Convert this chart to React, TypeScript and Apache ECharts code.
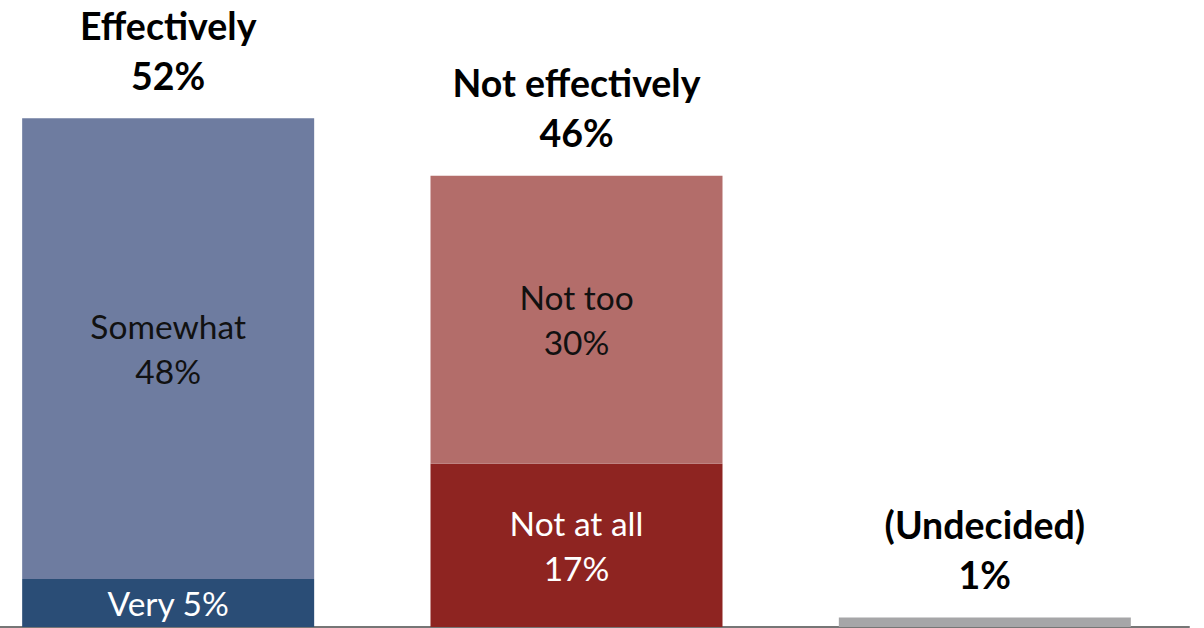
import React, { useEffect, useRef } from "react";
import * as echarts from "echarts";

const categories = ["Effectively", "Not effectively", "(Undecided)"];
const veryValues = [5, null, null];
const somewhatValues = [48, null, null];
const notAtAllValues = [null, 17, null];
const notTooValues = [null, 30, null];
const undecidedValues = [null, null, 1];
const totalLabels = ["52%", "46%", "1%"];

const FONT = "Lato";

export default function App() {
  const ref = useRef<HTMLDivElement>(null);
  useEffect(() => {
    document.body.style.margin = "0";
    if (!ref.current) return;
    const chart = echarts.init(ref.current, null, { renderer: "svg" });
    const toData = (arr: (number | null)[]) => arr.map((v) => (v == null ? "-" : v));
    const inner = (name: string, color: string, oneLine = false) => ({
      show: true,
      position: "inside",
      color,
      fontFamily: FONT,
      fontSize: 33.5,
      lineHeight: 45,
      formatter: (p: any) => (oneLine ? `${name} ${p.value}%` : `${name}\n${p.value}%`),
    });
    const mk = (name: string, data: any[], color: string, label: any) => ({
      name,
      type: "bar",
      stack: "s",
      barWidth: 292,
      data: toData(data),
      itemStyle: { color },
      label,
    });
    chart.setOption({
      animation: false,
      grid: { left: 0, right: 15, top: 51, bottom: 1 },
      xAxis: {
        type: "category",
        data: categories,
        axisLine: { show: true, lineStyle: { color: "#767676", width: 2 } },
        axisTick: { show: false },
        axisLabel: { show: false },
      },
      yAxis: { type: "value", min: 0, max: 60, show: false, splitLine: { show: false } },
      series: [
        mk("Very", veryValues, "#2A4D76", inner("Very", "#ffffff", true)),
        mk("Somewhat", somewhatValues, "#6E7CA0", inner("Somewhat", "#111111")),
        mk("Not at all", notAtAllValues, "#8E2421", inner("Not at all", "#ffffff")),
        mk("Not too", notTooValues, "#B36D6A", inner("Not too", "#111111")),
        mk("(Undecided)", undecidedValues, "#A6A6A8", { show: false }),
        {
          name: "total",
          type: "bar",
          stack: "s",
          barWidth: 292,
          data: [0, 0, 0],
          itemStyle: { color: "transparent" },
          label: {
            show: true,
            position: "top",
            distance: 18,
            color: "#000000",
            fontFamily: FONT,
            fontWeight: "bold",
            fontSize: 37.5,
            lineHeight: 50,
            formatter: (p: any) => `${categories[p.dataIndex]}\n${totalLabels[p.dataIndex]}`,
          },
        },
      ],
    });
    return () => chart.dispose();
  }, []);
  return (
    <div style={{ width: 1204, height: 628, overflow: "hidden", position: "relative" }}>
      <div ref={ref} style={{ position: "absolute", left: -36, top: 0, width: 1240, height: 628 }} />
    </div>
  );
}
